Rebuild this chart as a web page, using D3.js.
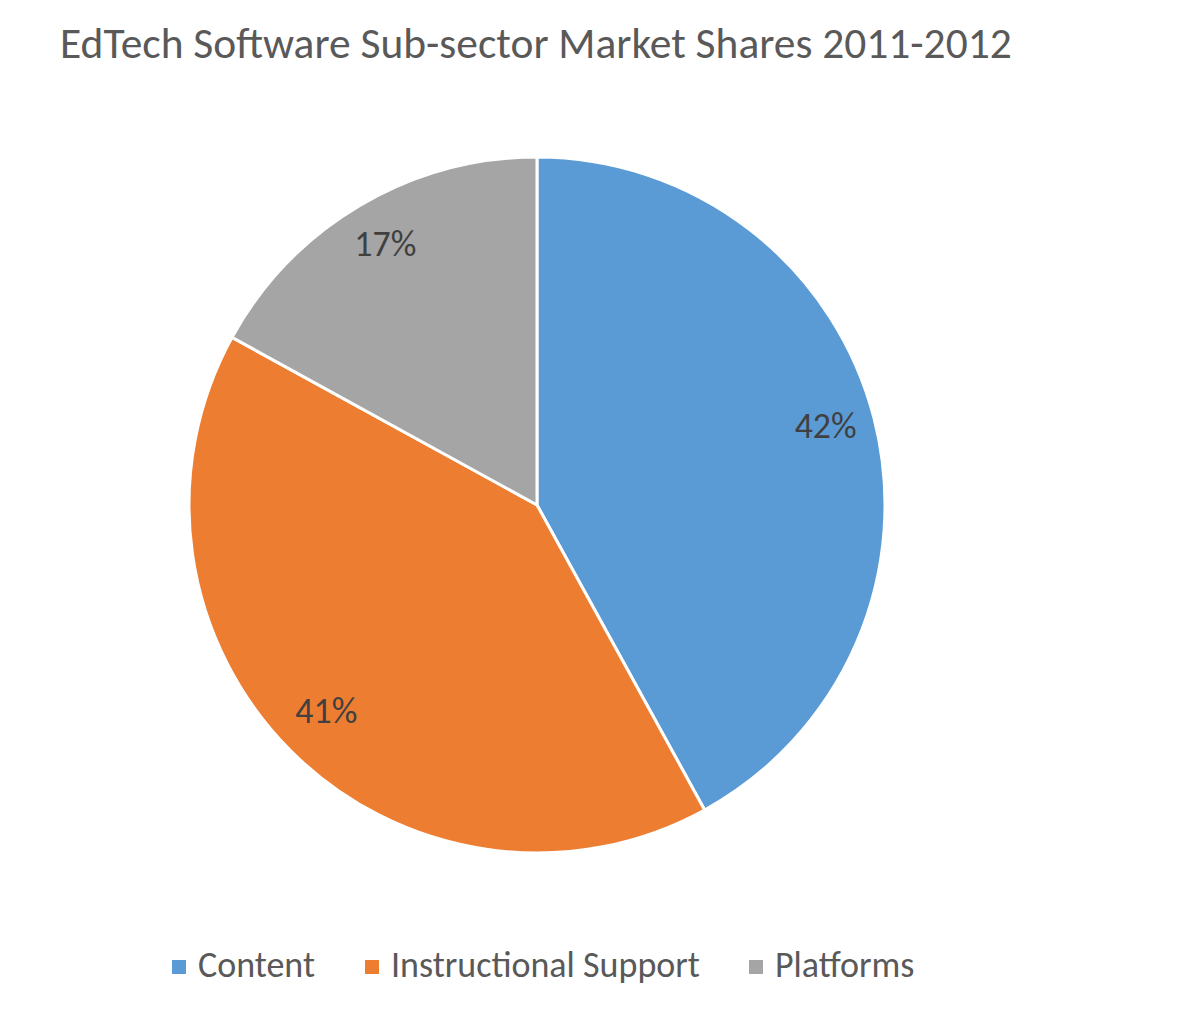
<!DOCTYPE html>
<html><head><meta charset="utf-8">
<script src="https://cdn.jsdelivr.net/npm/d3@7"></script>
<style>body{margin:0;background:#fff}svg{display:block}</style>
</head><body>
<svg id="c" width="1200" height="1012"></svg>
<script>
const title = "EdTech Software Sub-sector Market Shares 2011-2012";
const categories = ["Content", "Instructional Support", "Platforms"];
const values = [42, 41, 17];
const colors = ["#5B9BD5", "#ED7D31", "#A5A5A5"];

const svg = d3.select("#c");
const font = "Calibri, Carlito, 'Open Sans', 'Noto Sans', sans-serif";

function fitText(sel, target) {
  const w = sel.node().getComputedTextLength();
  const fs = parseFloat(sel.attr("font-size"));
  sel.attr("font-size", fs * target / w);
}

const t = svg.append("text").attr("x", 60).attr("y", 58)
  .attr("font-family", font).attr("font-size", 36).attr("fill", "#595959").text(title);
fitText(t, 952);

const cx = 537, cy = 505, R = 348;
const pie = d3.pie().sort(null).value(d => d)(values);
const arc = d3.arc().innerRadius(0).outerRadius(R);
const labelArc = d3.arc().innerRadius(298).outerRadius(298);
const g = svg.append("g").attr("transform", `translate(${cx},${cy})`);
g.selectAll("path").data(pie).join("path")
  .attr("d", arc).attr("fill", (d, i) => colors[i])
  .attr("stroke", "#fff").attr("stroke-width", 3).attr("stroke-linejoin", "round");
const labels = g.selectAll("text").data(pie).join("text")
  .attr("transform", d => `translate(${labelArc.centroid(d)})`)
  .attr("text-anchor", "middle").attr("dy", "0.2em")
  .attr("font-family", font).attr("font-size", 28).attr("fill", "#404040")
  .text(d => d.data + "%");
const lw = labels.nodes()[0].getComputedTextLength();
labels.attr("font-size", 28 * 62 / lw);

// legend
const legX = [172, 365, 749];
const legW = [117, 309, 139];
const lg = svg.append("g");
categories.forEach((c, i) => {
  lg.append("rect").attr("x", legX[i]).attr("y", 960).attr("width", 14).attr("height", 14).attr("fill", colors[i]);
  lg.append("text").attr("x", legX[i] + 26).attr("y", 977)
    .attr("font-family", font).attr("font-size", 28).attr("fill", "#595959").text(c);
});
const texts = lg.selectAll("text");
const w1 = texts.nodes()[1].getComputedTextLength();
texts.attr("font-size", 28 * legW[1] / w1);
</script>
</body></html>
